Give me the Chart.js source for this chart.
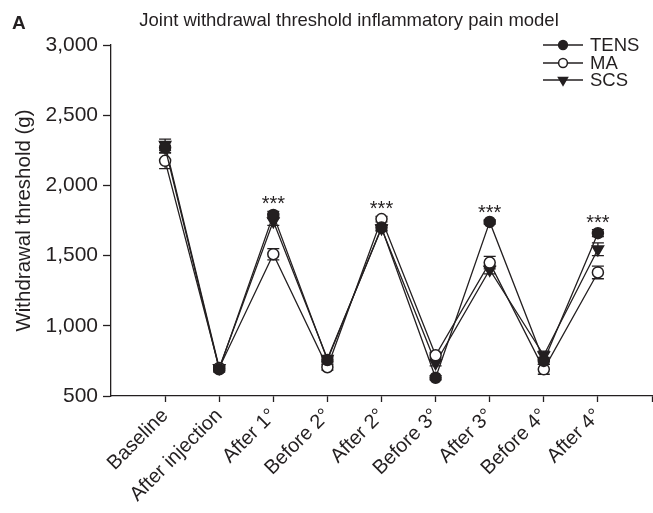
<!DOCTYPE html>
<html>
<head>
<meta charset="utf-8">
<script src="https://cdn.jsdelivr.net/npm/chart.js@4/dist/chart.umd.min.js"></script>
<style>
  html, body { margin: 0; padding: 0; background: #fff; }
  #wrap { width: 653px; height: 513px; position: relative; }
</style>
</head>
<body>
<div id="wrap"><canvas id="c" width="653" height="513"></canvas></div>
<script>
const panelLabel = 'A';
const chartTitle = 'Joint withdrawal threshold inflammatory pain model';
const yTitle = 'Withdrawal threshold (g)';
const categories = ['Baseline', 'After injection', 'After 1°', 'Before 2°', 'After 2°', 'Before 3°', 'After 3°', 'Before 4°', 'After 4°'];
const seriesNames = ['TENS', 'MA', 'SCS'];
const tens = [2270, 690, 1790, 756, 1700, 630, 1740, 750, 1660];
const ma   = [2175, 700, 1510, 705, 1760, 790, 1450, 690, 1380];
const scs  = [2290, 700, 1745, 765, 1695, 735, 1400, 790, 1545];
const tensErr = [35, 20, 25, 20, 20, 15, 15, 25, 25];
const maErr   = [55, 20, 40, 20, 20, 20, 45, 35, 45];
const scsErr  = [40, 20, 30, 20, 20, 20, 30, 30, 45];
const significance = ['', '', '***', '', '***', '', '***', '', '***'];
const yTicks = [500, 1000, 1500, 2000, 2500, 3000];

const INK = '#231f20';
const FONT = '"Liberation Sans", Arial, Helvetica, sans-serif';

function pts(arr) { return arr.map((v, i) => ({ x: i, y: v })); }

const errors = [tensErr, maErr, scsErr];
const values = [tens, ma, scs];

const errorBarPlugin = {
  id: 'errorBars',
  beforeDatasetsDraw(chart) {
    const ctx = chart.ctx, xs = chart.scales.x, ys = chart.scales.y;
    ctx.save();
    ctx.strokeStyle = INK;
    ctx.lineWidth = 1.3;
    values.forEach((vals, d) => {
      vals.forEach((v, i) => {
        const e = errors[d][i];
        const x = xs.getPixelForValue(i);
        const y1 = ys.getPixelForValue(v + e), y2 = ys.getPixelForValue(v - e);
        ctx.beginPath();
        ctx.moveTo(x, y1); ctx.lineTo(x, y2);
        ctx.moveTo(x - 6, y1); ctx.lineTo(x + 6, y1);
        ctx.moveTo(x - 6, y2); ctx.lineTo(x + 6, y2);
        ctx.stroke();
      });
    });
    ctx.restore();
  },
  afterDraw(chart) {
    const ctx = chart.ctx, xs = chart.scales.x, ys = chart.scales.y;
    ctx.save();
    ctx.fillStyle = INK;
    // significance stars
    ctx.font = '20px ' + FONT;
    ctx.textAlign = 'center';
    ctx.textBaseline = 'alphabetic';
    significance.forEach((s, i) => {
      if (!s) return;
      const top = Math.max(tens[i] + tensErr[i], ma[i] + maErr[i], scs[i] + scsErr[i]);
      const x = xs.getPixelForValue(i);
      const y = ys.getPixelForValue(top) - 1;
      ctx.fillText(s, x, y);
    });
    ctx.textBaseline = 'middle';
    // panel label and title
    ctx.font = 'bold 19px ' + FONT;
    ctx.textAlign = 'left';
    ctx.fillText(panelLabel, 12, 24);
    ctx.font = '18.5px ' + FONT;
    ctx.textAlign = 'center';
    ctx.fillText(chartTitle, 349, 21);
    // legend
    const ys0 = [45, 63, 80];
    chart.data.datasets.forEach((ds, k) => {
      const y = ys0[k];
      ctx.strokeStyle = INK;
      ctx.lineWidth = 1.3;
      ctx.beginPath();
      ctx.moveTo(543, y); ctx.lineTo(583, y);
      ctx.stroke();
      ctx.fillStyle = ds.pointBackgroundColor;
      ctx.strokeStyle = INK;
      ctx.lineWidth = ds.pointBorderWidth;
      Chart.helpers.drawPoint(ctx, {
        pointStyle: ds.pointStyle,
        rotation: ds.pointRotation || 0,
        radius: ds.pointRadius * 0.8,
        borderWidth: ds.pointBorderWidth
      }, 563, y);
      ctx.fillStyle = INK;
      ctx.font = '18.5px ' + FONT;
      ctx.textAlign = 'left';
      ctx.fillText(ds.label, 590, y + 1);
    });
    ctx.restore();
  }
};

const common = {
  borderColor: INK,
  borderWidth: 1.3,
  pointBorderColor: INK,
  pointBorderWidth: 1.5,
  tension: 0,
  fill: false
};

new Chart(document.getElementById('c'), {
  type: 'line',
  data: {
    datasets: [
      Object.assign({}, common, { label: seriesNames[0], data: pts(tens), pointStyle: 'circle', pointRadius: 5.5, pointBackgroundColor: INK }),
      Object.assign({}, common, { label: seriesNames[1], data: pts(ma), pointStyle: 'circle', pointRadius: 5.5, pointBackgroundColor: '#ffffff' }),
      Object.assign({}, common, { label: seriesNames[2], data: pts(scs), pointStyle: 'triangle', pointRotation: 180, pointRadius: 6.5, pointBackgroundColor: INK })
    ]
  },
  options: {
    responsive: false,
    animation: false,
    layout: { autoPadding: false, padding: { top: 45, right: 1, left: 0, bottom: 0 } },
    plugins: {
      legend: { display: false },
      title: { display: false },
      tooltip: { enabled: false }
    },
    scales: {
      x: {
        type: 'linear',
        min: -1,
        max: 9,
        afterFit(s) { s.height = 117; s.paddingRight = 0; s.paddingLeft = 0; },
        afterBuildTicks(s) { s.ticks = [-1, 0, 1, 2, 3, 4, 5, 6, 7, 8, 9].map(v => ({ value: v })); },
        border: { display: true, color: INK, width: 1.3 },
        grid: {
          drawOnChartArea: false,
          drawTicks: true,
          tickLength: 6,
          tickWidth: 1.3,
          color: ctx => (ctx.tick && ctx.tick.value === -1) ? 'rgba(0,0,0,0)' : INK
        },
        ticks: {
          autoSkip: false,
          minRotation: 45,
          maxRotation: 45,
          padding: 2,
          color: INK,
          font: { family: FONT, size: 20 },
          callback: v => (v >= 0 && v < categories.length) ? categories[v] : ''
        }
      },
      y: {
        min: 500,
        max: 3000,
        afterFit(s) { s.width = 111; },
        afterBuildTicks(s) { s.ticks = yTicks.map(v => ({ value: v })); },
        border: { display: true, color: INK, width: 1.3 },
        grid: { drawOnChartArea: false, drawTicks: true, tickLength: 8, tickWidth: 1.3, color: INK },
        ticks: {
          padding: 5,
          color: INK,
          font: { family: FONT, size: 21 },
          callback: v => v.toLocaleString('en-US')
        },
        title: {
          display: true,
          text: yTitle,
          color: INK,
          font: { family: FONT, size: 20.5 },
          padding: { top: 12, bottom: 0 }
        }
      }
    }
  },
  plugins: [errorBarPlugin]
});
</script>
</body>
</html>
